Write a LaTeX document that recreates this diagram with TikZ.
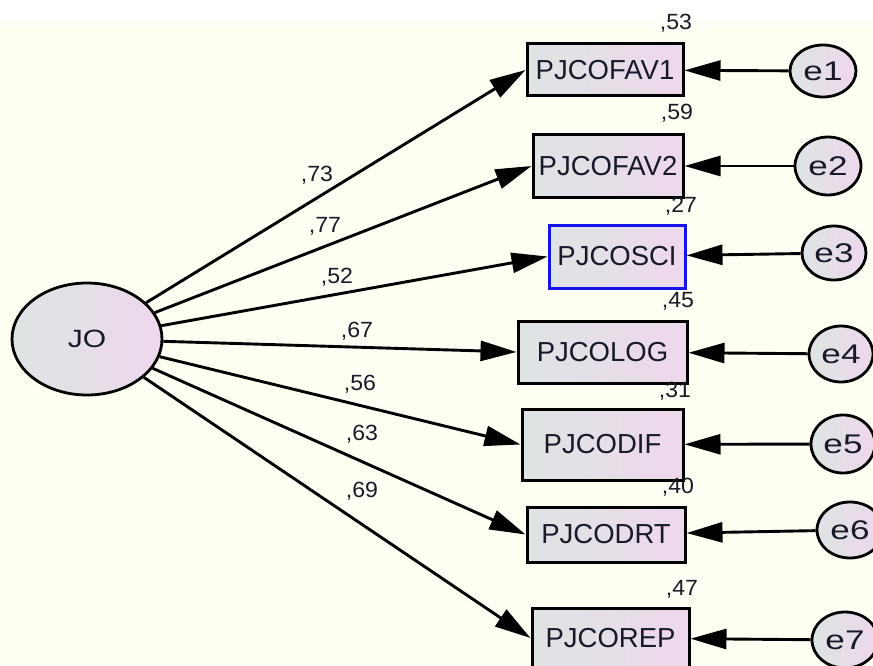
\documentclass[tikz,border=0pt]{standalone}
\usepackage{fontspec}
\setmainfont{Liberation Sans}
\newfontfamily\boxfont[FakeStretch=1.0]{Liberation Sans}
\newfontfamily\efont[FakeStretch=1.3]{Liberation Sans}
\newfontfamily\jofont[FakeStretch=1.2]{Liberation Sans}
\newfontfamily\numfont[FakeStretch=1.05]{Liberation Sans}
\usetikzlibrary{arrows.meta,shapes.geometric}
\definecolor{bgc}{RGB}{255,255,243}
\definecolor{gfill}{RGB}{222,228,228}
\definecolor{pfill}{RGB}{238,216,236}
\definecolor{txt}{RGB}{25,25,40}
\definecolor{selblue}{RGB}{20,20,235}
\tikzset{
  obsbox/.style={rectangle, draw=black, line width=3pt, inner sep=0pt,
    left color=gfill, right color=pfill, text=txt,
    font=\boxfont\fontsize{27.5}{32}\selectfont},
  errnode/.style={ellipse, draw=black, line width=2.8pt, inner sep=0pt,
    left color=gfill, right color=pfill, text=txt,
    font=\efont\fontsize{27}{30}\selectfont},
  latnode/.style={ellipse, draw=black, line width=2.8pt, inner sep=0pt,
    left color=gfill, right color=pfill, text=txt,
    font=\jofont\fontsize{25}{28}\selectfont},
  numlab/.style={anchor=base, inner sep=0pt, text=txt,
    font=\numfont\fontsize{22}{25}\selectfont},
  arr/.style={draw=black, line width=2.9pt,
    -{Triangle[length=36pt,width=20pt]}}
}
\begin{document}
\begin{tikzpicture}[x=1pt,y=-1pt]
\useasboundingbox (0,0) rectangle (873,666);
\clip (0,0) rectangle (873,666);
\fill[bgc] (0,0) rectangle (873,666);
\fill[white] (0,0) rectangle (873,12);
\shade[top color=white, bottom color=bgc] (0,12) rectangle (873,30);

% latent
\node[latnode, minimum width=150pt, minimum height=112pt] (JO) at (87,339) {JO};

% observed
\node[obsbox, minimum width=156pt, minimum height=52pt] (FAV1) at (605,70) {PJCOFAV1};
\node[obsbox, minimum width=150pt, minimum height=62pt] (FAV2) at (608,166) {PJCOFAV2};
\node[obsbox, draw=selblue, minimum width=136pt, minimum height=63pt] (SCI) at (617,256.5) {PJCOSCI};
\node[obsbox, minimum width=169pt, minimum height=62pt] (LOG) at (602.5,352) {PJCOLOG};
\node[obsbox, minimum width=161pt, minimum height=71pt] (DIF) at (602.5,444.5) {PJCODIF};
\node[obsbox, minimum width=158pt, minimum height=55pt] (DRT) at (606,534.5) {PJCODRT};
\node[obsbox, minimum width=157pt, minimum height=60pt] (REP) at (610.5,638) {PJCOREP};

% errors
\node[errnode, minimum width=66pt, minimum height=52pt] (e1) at (823,71) {e1};
\node[errnode, minimum width=66pt, minimum height=58pt] (e2) at (828,166) {e2};
\node[errnode, minimum width=64pt, minimum height=54pt] (e3) at (834,253) {e3};
\node[errnode, minimum width=64pt, minimum height=56pt] (e4) at (841,354) {e4};
\node[errnode, minimum width=64pt, minimum height=58pt] (e5) at (843,444) {e5};
\node[errnode, minimum width=66pt, minimum height=56pt] (e6) at (850,530) {e6};
\node[errnode, minimum width=66pt, minimum height=56pt] (e7) at (845,640) {e7};

% loadings
\draw[arr] (JO) -- (FAV1.west);
\draw[arr] (JO) -- (FAV2.west);
\draw[arr] (JO) -- (SCI.west);
\draw[arr] (JO) -- (LOG.west);
\draw[arr] (JO) -- (DIF.west);
\draw[arr] (JO) -- (DRT.west);
\draw[arr] (JO) -- (REP.west);

% error paths
\draw[arr] (e1) -- (FAV1);
\draw[arr] (e2) -- (FAV2);
\draw[arr] (e3) -- (SCI);
\draw[arr] (e4) -- (LOG);
\draw[arr] (e5) -- (DIF);
\draw[arr] (e6) -- (DRT);
\draw[arr] (e7) -- (REP);

% loading labels
\node[numlab] (l1) at (317,182) {,73};
\node[numlab] (l2) at (325,232) {,77};
\node[numlab] (l3) at (337,283) {,52};
\node[numlab] (l4) at (357,337) {,67};
\node[numlab] (l5) at (360,390) {,56};
\node[numlab] (l6) at (362,440) {,63};
\node[numlab] (l7) at (362,497) {,69};

% squared multiple correlations
\node[numlab] (r1) at (676,30) {,53};
\node[numlab] (r2) at (677,120) {,59};
\node[numlab] (r3) at (681,212) {,27};
\node[numlab] (r4) at (678,307) {,45};
\node[numlab] (r5) at (675,397) {,31};
\node[numlab] (r6) at (678,493) {,40};
\node[numlab] (r7) at (682,595) {,47};
\end{tikzpicture}
\end{document}
